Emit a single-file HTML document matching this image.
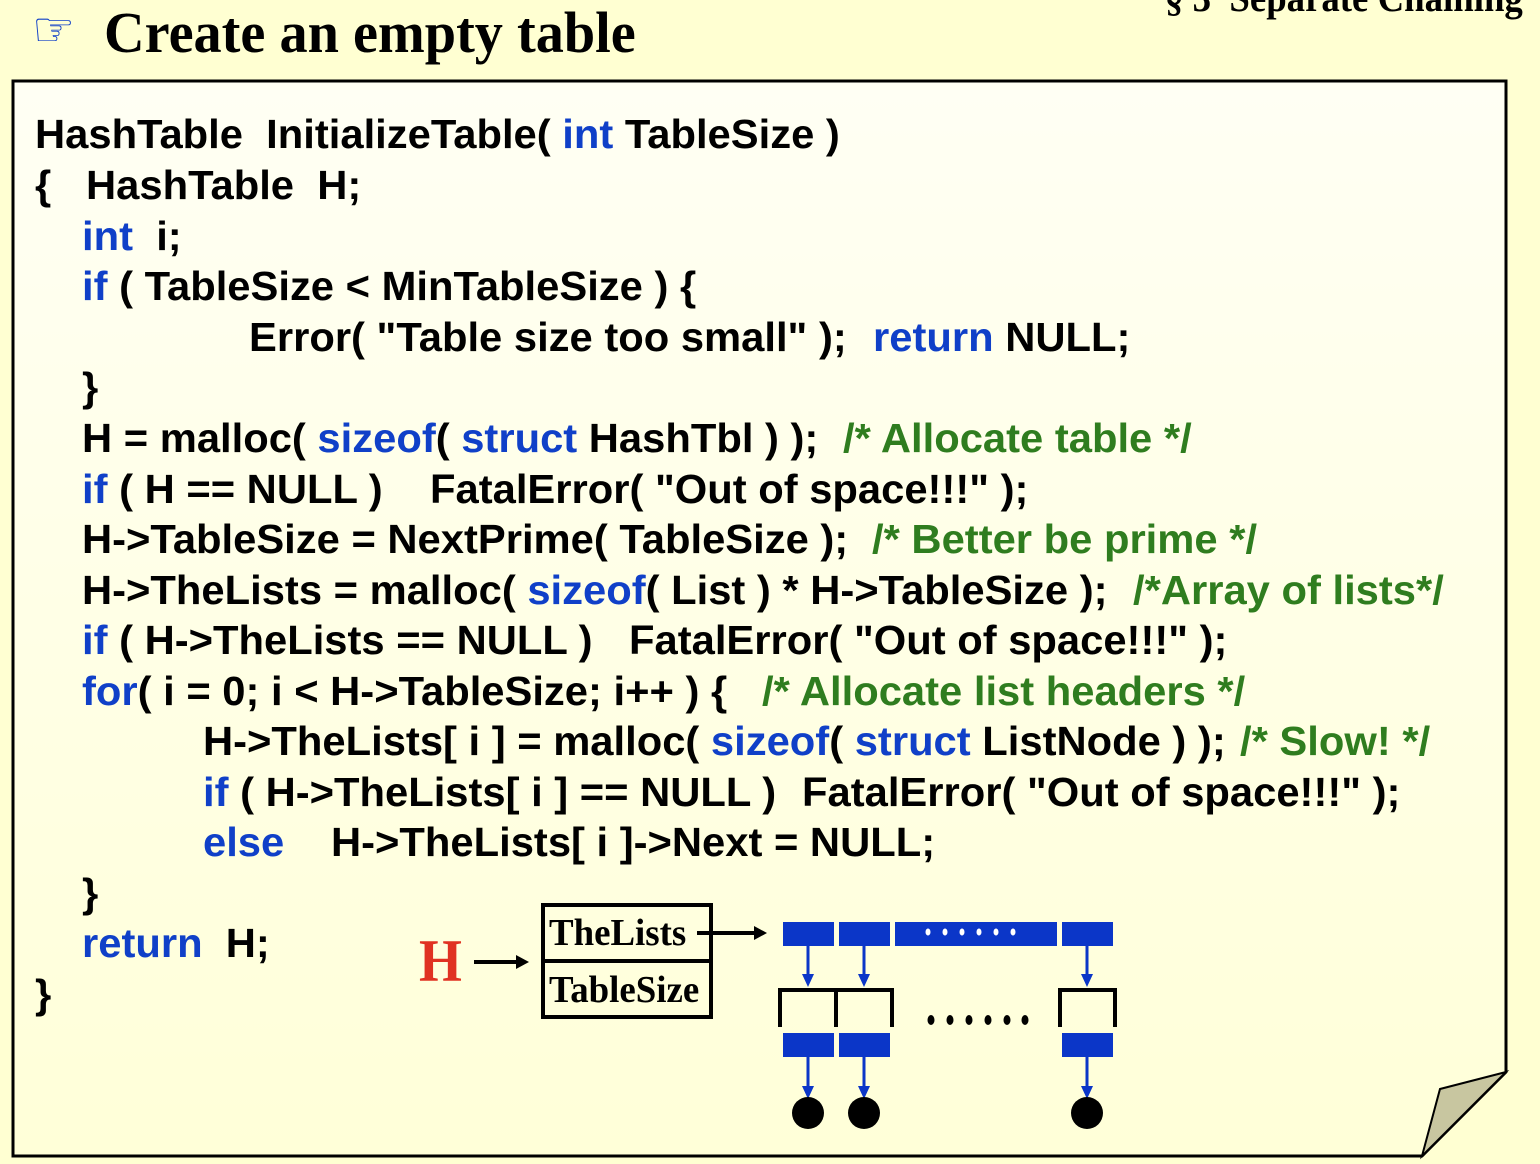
<!DOCTYPE html>
<html><head><meta charset="utf-8"><style>
body{margin:0;width:1540px;height:1164px;background:#ffffd2;position:relative;overflow:hidden;font-family:"Liberation Sans",Arial,sans-serif}
.l{position:absolute;font-weight:bold;font-size:41px;line-height:40px;white-space:pre;transform:scaleX(1.018);transform-origin:0 0;color:#000}
.b{color:#1040c8}.g{color:#2f7d1f}
.t{position:absolute;font-family:"Liberation Serif",serif;font-weight:bold;white-space:pre;transform-origin:0 0}
</style></head><body>
<div class="t" style="left:104px;top:0px;font-size:58px;line-height:66px;transform:scaleX(0.97)">Create an empty table</div>
<div class="t" style="left:1165px;top:-24px;font-size:40px;line-height:44px;transform:scaleX(0.92)">§ 3  Separate Chaining</div>
<div style="position:absolute;left:32px;top:6px;font-size:48px;color:#1040c8;line-height:48px;font-family:'DejaVu Sans',sans-serif">☞</div>
<svg style="position:absolute;left:0;top:0" width="1540" height="1164">
<defs><linearGradient id="gr" x1="0" y1="0" x2="0" y2="1"><stop offset="0" stop-color="#fffff4"/><stop offset="1" stop-color="#ffffd8"/></linearGradient></defs>
<polygon points="13,81 1506,81 1506,1072 1422,1156 13,1156" fill="url(#gr)" stroke="#000" stroke-width="3"/>
<polygon points="1506,1072 1440,1089 1422,1156" fill="#c8c6a0" stroke="#000" stroke-width="2"/>
<rect x="543" y="905" width="168" height="112" fill="none" stroke="#000" stroke-width="4"/>
<line x1="543" y1="961" x2="711" y2="961" stroke="#000" stroke-width="4"/>
<line x1="474" y1="962" x2="518" y2="962" stroke="#000" stroke-width="4"/><polygon points="529,962 516,955 516,969" fill="#000"/>
<line x1="697" y1="933" x2="755" y2="933" stroke="#000" stroke-width="4"/><polygon points="767,933 754,926 754,940" fill="#000"/>
<g fill="#0b36c8">
<rect x="783" y="922" width="51" height="24"/><rect x="839" y="922" width="51" height="24"/><rect x="895" y="922" width="162" height="24"/><rect x="1062" y="922" width="51" height="24"/>
<rect x="783" y="1033" width="51" height="24"/><rect x="839" y="1033" width="51" height="24"/><rect x="1062" y="1033" width="51" height="24"/>
</g>
<g fill="#fff"><ellipse cx="928" cy="932" rx="2.5" ry="3.5"/><ellipse cx="945" cy="932" rx="2.5" ry="3.5"/><ellipse cx="962" cy="932" rx="2.5" ry="3.5"/><ellipse cx="979" cy="932" rx="2.5" ry="3.5"/><ellipse cx="996" cy="932" rx="2.5" ry="3.5"/><ellipse cx="1013" cy="932" rx="2.5" ry="3.5"/></g>
<g stroke="#0b36c8" stroke-width="3">
<line x1="808" y1="946" x2="808" y2="976"/><line x1="864" y1="946" x2="864" y2="976"/><line x1="1087" y1="946" x2="1087" y2="976"/>
<line x1="808" y1="1057" x2="808" y2="1088"/><line x1="864" y1="1057" x2="864" y2="1088"/><line x1="1087" y1="1057" x2="1087" y2="1088"/>
</g>
<g fill="#0b36c8">
<polygon points="808,987 802,974 814,974"/><polygon points="864,987 858,974 870,974"/><polygon points="1087,987 1081,974 1093,974"/>
<polygon points="808,1099 802,1086 814,1086"/><polygon points="864,1099 858,1086 870,1086"/><polygon points="1087,1099 1081,1086 1093,1086"/>
</g>
<g fill="none" stroke="#000" stroke-width="4">
<polyline points="780,1027 780,990 892,990 892,1027"/><line x1="836" y1="990" x2="836" y2="1027"/>
<polyline points="1060,1027 1060,990 1115,990 1115,1027"/>
</g>
<g fill="#000"><ellipse cx="931" cy="1020" rx="3.5" ry="5"/><ellipse cx="950" cy="1020" rx="3.5" ry="5"/><ellipse cx="969" cy="1020" rx="3.5" ry="5"/><ellipse cx="988" cy="1020" rx="3.5" ry="5"/><ellipse cx="1007" cy="1020" rx="3.5" ry="5"/><ellipse cx="1025" cy="1020" rx="3.5" ry="5"/>
<ellipse cx="808" cy="1113" rx="16" ry="16"/><ellipse cx="864" cy="1113" rx="16" ry="16"/><ellipse cx="1087" cy="1113" rx="16" ry="16"/></g>
</svg>
<div class="t" style="left:549px;top:912px;font-size:38px;line-height:42px;transform:scaleX(0.97)">TheLists</div>
<div class="t" style="left:549px;top:969px;font-size:38px;line-height:42px;transform:scaleX(0.97)">TableSize</div>
<div class="t" style="left:419px;top:929px;font-size:60px;line-height:64px;color:#e03222;transform:scaleX(0.92)">H</div>

<div class="l" style="left:35px;top:114px">HashTable  InitializeTable( <span class="b">int</span> TableSize )</div>
<div class="l" style="left:35px;top:165px">{   HashTable  H;</div>
<div class="l" style="left:82px;top:216px"><span class="b">int</span>  i;</div>
<div class="l" style="left:82px;top:266px"><span class="b">if</span> ( TableSize &lt; MinTableSize ) {</div>
<div class="l" style="left:249px;top:317px">Error( "Table size too small" );</div>
<div class="l" style="left:873px;top:317px"><span class="b">return</span> NULL;</div>
<div class="l" style="left:82px;top:367px">}</div>
<div class="l" style="left:82px;top:418px">H = malloc( <span class="b">sizeof</span>( <span class="b">struct</span> HashTbl ) );</div>
<div class="l g" style="left:843px;top:418px">/* Allocate table */</div>
<div class="l" style="left:82px;top:469px"><span class="b">if</span> ( H == NULL )</div>
<div class="l" style="left:430px;top:469px">FatalError( "Out of space!!!" );</div>
<div class="l" style="left:82px;top:519px">H-&gt;TableSize = NextPrime( TableSize );</div>
<div class="l g" style="left:872px;top:519px">/* Better be prime */</div>
<div class="l" style="left:82px;top:570px">H-&gt;TheLists = malloc( <span class="b">sizeof</span>( List ) * H-&gt;TableSize );</div>
<div class="l g" style="left:1133px;top:570px">/*Array of lists*/</div>
<div class="l" style="left:82px;top:620px"><span class="b">if</span> ( H-&gt;TheLists == NULL )</div>
<div class="l" style="left:629px;top:620px">FatalError( "Out of space!!!" );</div>
<div class="l" style="left:82px;top:671px"><span class="b">for</span>( i = 0; i &lt; H-&gt;TableSize; i++ ) {</div>
<div class="l g" style="left:762px;top:671px">/* Allocate list headers */</div>
<div class="l" style="left:203px;top:721px">H-&gt;TheLists[ i ] = malloc( <span class="b">sizeof</span>( <span class="b">struct</span> ListNode ) );</div>
<div class="l g" style="left:1240px;top:721px">/* Slow! */</div>
<div class="l" style="left:203px;top:772px"><span class="b">if</span> ( H-&gt;TheLists[ i ] == NULL )</div>
<div class="l" style="left:802px;top:772px">FatalError( "Out of space!!!" );</div>
<div class="l" style="left:203px;top:822px"><span class="b">else</span></div>
<div class="l" style="left:331px;top:822px">H-&gt;TheLists[ i ]-&gt;Next = NULL;</div>
<div class="l" style="left:82px;top:873px">}</div>
<div class="l" style="left:82px;top:923px"><span class="b">return</span>  H;</div>
<div class="l" style="left:35px;top:974px">}</div>
</body></html>
